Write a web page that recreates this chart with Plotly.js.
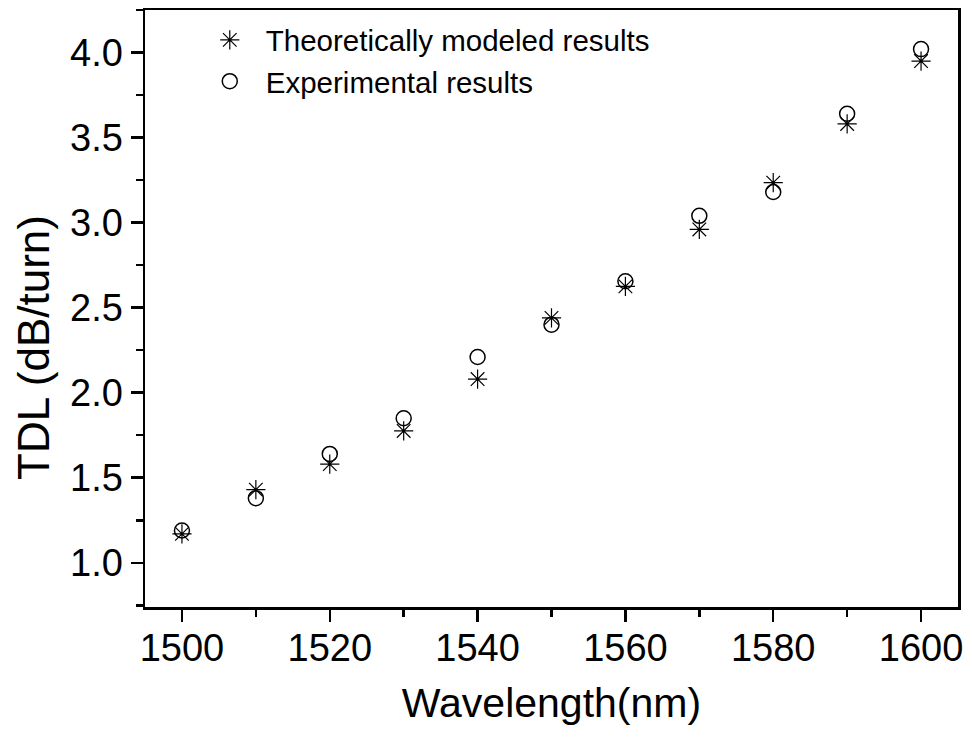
<!DOCTYPE html>
<html>
<head>
<meta charset="utf-8">
<script src="https://cdn.plot.ly/plotly-3.0.1.min.js"></script>
<style>html,body{margin:0;padding:0;background:#fff;}#chart{width:972px;height:740px;}</style>
</head>
<body>
<div id="chart"></div>
<script>
var wavelength = [1500, 1510, 1520, 1530, 1540, 1550, 1560, 1570, 1580, 1590, 1600];
var theoretical = [1.17, 1.43, 1.58, 1.775, 2.08, 2.44, 2.625, 2.96, 3.235, 3.58, 3.95];
var experimental = [1.19, 1.38, 1.64, 1.85, 2.21, 2.40, 2.655, 3.04, 3.18, 3.64, 4.02];
var seriesNames = ["Theoretically modeled results", "Experimental results"];
var xTitle = "Wavelength(nm)";
var yTitle = "TDL (dB/turn)";

var font = "'Liberation Sans', Arial, sans-serif";

var traces = [
  {
    x: wavelength, y: theoretical, name: seriesNames[0],
    type: "scatter", mode: "markers",
    marker: {symbol: "asterisk-open", size: 16, color: "#000", line: {color: "#000", width: 1.2}}
  },
  {
    x: wavelength, y: experimental, name: seriesNames[1],
    type: "scatter", mode: "markers",
    marker: {symbol: "circle-open", size: 15, color: "#000", line: {color: "#000", width: 1.5}}
  }
];

var axisCommon = {
  showgrid: false, zeroline: false,
  showline: true, linecolor: "#000", linewidth: 2.5, mirror: true,
  ticks: "outside", ticklen: 12, tickwidth: 2.5, tickcolor: "#000",
  tickfont: {family: font, size: 38, color: "#000"}
};

var layout = {
  width: 972, height: 740,
  paper_bgcolor: "#fff", plot_bgcolor: "#fff",
  margin: {l: 145, r: 14, t: 10, b: 133},
  showlegend: true,
  legend: {
    x: 0.06, y: 0.993, xanchor: "left", yanchor: "top",
    bgcolor: "rgba(0,0,0,0)", borderwidth: 0,
    font: {family: font, size: 29.5, color: "#000"},
    itemwidth: 62, tracegroupgap: 0
  },
  xaxis: Object.assign({}, axisCommon, {
    range: [1495, 1605],
    tickmode: "linear", tick0: 1500, dtick: 20,
    ticklabelstandoff: -6,
    minor: {dtick: 10, ticks: "outside", ticklen: 7, tickwidth: 2.5, tickcolor: "#000"},
    title: {text: xTitle, font: {family: font, size: 41, color: "#000"}, standoff: 20}
  }),
  yaxis: Object.assign({}, axisCommon, {
    range: [0.74, 4.25],
    tickmode: "linear", tick0: 1.0, dtick: 0.5,
    tickformat: ".1f",
    minor: {dtick: 0.25, ticks: "outside", ticklen: 7, tickwidth: 2.5, tickcolor: "#000"}
  }),
  annotations: [{
    text: yTitle, textangle: -90,
    xref: "paper", yref: "paper",
    x: -0.137, y: 0.435, xanchor: "center", yanchor: "middle",
    showarrow: false,
    font: {family: font, size: 44, color: "#000"}
  }]
};

Plotly.newPlot("chart", traces, layout, {displayModeBar: false, staticPlot: true});
</script>
</body>
</html>
